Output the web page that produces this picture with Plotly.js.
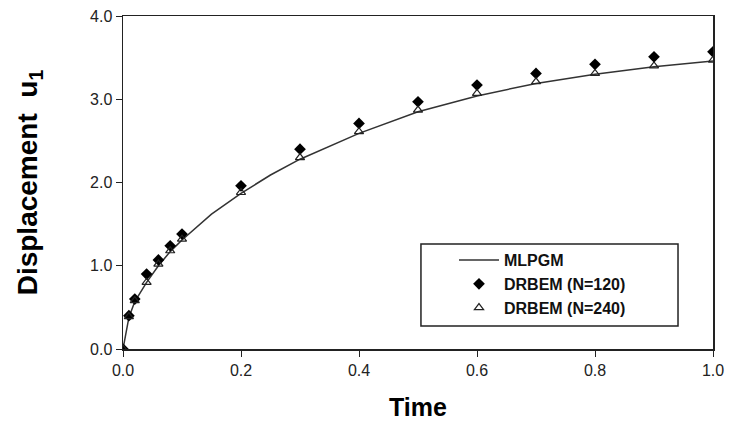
<!DOCTYPE html>
<html>
<head>
<meta charset="utf-8">
<script src="https://cdn.plot.ly/plotly-3.0.1.min.js"></script>
<style>html,body{margin:0;padding:0;background:#fff;}#chart{width:734px;height:426px;}</style>
</head>
<body>
<div id="chart"></div>
<script>
// MLPGM solution curve
var lineTime = [0, 0.01, 0.02, 0.04, 0.06, 0.08, 0.1, 0.15, 0.2, 0.25, 0.3, 0.4, 0.5, 0.6, 0.7, 0.8, 0.9, 1.0];
var lineDisp = [0, 0.38, 0.57, 0.80, 1.00, 1.17, 1.31, 1.62, 1.87, 2.09, 2.28, 2.59, 2.85, 3.04, 3.19, 3.30, 3.39, 3.46];

// DRBEM points
var ptTime = [0, 0.01, 0.02, 0.04, 0.06, 0.08, 0.1, 0.2, 0.3, 0.4, 0.5, 0.6, 0.7, 0.8, 0.9, 1.0];
var disp120 = [0, 0.40, 0.60, 0.90, 1.07, 1.24, 1.38, 1.96, 2.40, 2.71, 2.97, 3.17, 3.31, 3.42, 3.51, 3.57];
var disp240 = [0, 0.39, 0.58, 0.80, 1.02, 1.18, 1.32, 1.88, 2.30, 2.61, 2.87, 3.07, 3.21, 3.31, 3.40, 3.47];

var xTicks = [0, 0.2, 0.4, 0.6, 0.8, 1.0];
var xTickText = ["0.0", "0.2", "0.4", "0.6", "0.8", "1.0"];
var yTicks = [0, 1, 2, 3, 4];
var yTickText = ["0.0", "1.0", "2.0", "3.0", "4.0"];

var traces = [
  {x: lineTime, y: lineDisp, mode: 'lines', name: 'MLPGM',
   line: {color: '#333333', width: 1.5}},
  {x: ptTime, y: disp120, mode: 'markers', name: 'DRBEM (N=120)',
   marker: {symbol: 'diamond', size: 9, color: '#000000'}},
  {x: ptTime, y: disp240, mode: 'markers', name: 'DRBEM (N=240)',
   marker: {symbol: 'triangle-up-open', size: 8, color: '#222222', line: {width: 1.2}}}
];

var layout = {
  width: 734, height: 426,
  margin: {l: 123, r: 21, t: 16, b: 77},
  paper_bgcolor: '#ffffff', plot_bgcolor: '#ffffff',
  font: {family: 'Liberation Sans, Arial, sans-serif', color: '#111111'},
  showlegend: true,
  xaxis: {
    range: [0, 1], tickvals: xTicks, ticktext: xTickText,
    showgrid: false, zeroline: false, showline: true, mirror: true,
    linecolor: '#222222', linewidth: 1.5,
    ticks: 'outside', ticklen: 6, tickwidth: 1, tickcolor: '#222222',
    tickfont: {size: 16, color: '#222222'},
    title: {text: '<b>Time</b>', font: {size: 25, color: '#000000'}, standoff: 21}
  },
  yaxis: {
    range: [0, 4], tickvals: yTicks, ticktext: yTickText,
    showgrid: false, zeroline: false, showline: true, mirror: true,
    linecolor: '#222222', linewidth: 1.5,
    ticks: 'outside', ticklen: 6, tickwidth: 1, tickcolor: '#222222',
    tickfont: {size: 16, color: '#222222'},
    title: {text: '<b>Displacement  u<sub>1</sub></b>', font: {size: 28, color: '#000000'}, standoff: 44}
  },
  shapes: [
    {type: 'rect', xref: 'paper', yref: 'paper', x0: 0.505, x1: 0.9407, y0: 0.069, y1: 0.315,
     line: {color: '#222222', width: 1.5}, fillcolor: 'rgba(0,0,0,0)', layer: 'above'}
  ],
  legend: {
    x: 0.561, y: 0.318, xanchor: 'left', yanchor: 'top',
    bgcolor: 'rgba(0,0,0,0)', borderwidth: 0,
    font: {size: 16, color: '#111111', family: 'Liberation Sans, Arial, sans-serif', weight: 'bold'},
    itemwidth: 40
  }
};

Plotly.newPlot('chart', traces, layout, {displayModeBar: false, staticPlot: true});
</script>
</body>
</html>
